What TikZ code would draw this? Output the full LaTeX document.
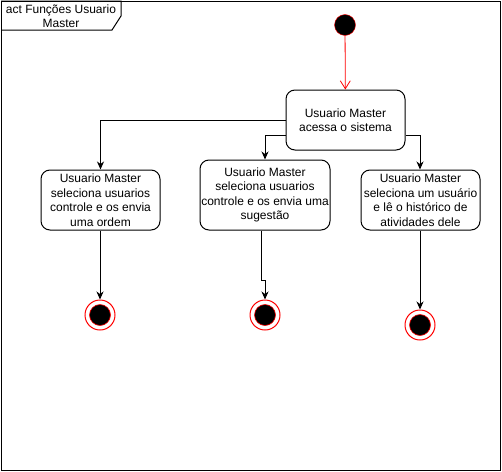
\documentclass[tikz,border=0pt]{standalone}
\usepackage{fontspec}
\setmainfont{Liberation Sans}
\usetikzlibrary{arrows.meta}
\begin{document}
\begin{tikzpicture}[x=1pt,y=-1pt,
  every node/.style={font=\fontsize{12pt}{14.5pt}\selectfont},
  action/.style={draw, line width=1pt, rounded corners=9pt, fill=white,
    align=center, inner sep=0pt},
  flow/.style={draw, line width=1pt, -{Stealth[length=8pt,width=7pt,inset=2.5pt]}},
  startflow/.style={draw=red, line width=0.8pt, -{Straight Barb[length=8pt,width=10pt]}},
  initial/.style={circle, draw=red, fill=black, minimum size=21pt, inner sep=0pt},
  finalring/.style={circle, draw=red, line width=1pt, fill=white, minimum size=30pt, inner sep=0pt},
  finaldot/.style={circle, draw=red, line width=0.6pt, fill=black, minimum size=21pt, inner sep=0pt}
]
\useasboundingbox (0,0) rectangle (502,471);

% frame with its name tab
\draw[line width=1pt] (1,1) rectangle (500,470);
\draw[line width=1pt] (1,1) -- (121,1) -- (121,16) -- (112,30) -- (1,30);
\node[align=center] (frame) at (61,16) {act Funções Usuario\\Master};

% initial state
\node[initial] (start) at (345,25) {};

% actions
\node[action, minimum width=119pt, minimum height=60pt] (access) at (345.5,120)
  {Usuario Master\\acessa o sistema};
\node[action, minimum width=119pt, minimum height=60pt] (order) at (100.5,200)
  {Usuario Master\\seleciona usuarios\\controle e os envia\\uma ordem};
\node[action, minimum width=130pt, minimum height=70pt] (suggest) at (265,195)
  {Usuario Master\\seleciona usuarios\\controle e os envia uma\\sugestão};
\node[action, minimum width=119pt, minimum height=60pt] (history) at (420.5,200)
  {Usuario Master\\seleciona um usuário\\e lê o histórico de\\atividades dele};

% final states
\node[finalring] (endA) at (100,315) {};
\node[finaldot] at (endA) {};
\node[finalring] (endB) at (265,315) {};
\node[finaldot] at (endB) {};
\node[finalring] (endC) at (420,325) {};
\node[finaldot] at (endC) {};

% control flows
\draw[startflow] (start) -- (access);
\draw[flow] (access.west) -| (order.north);
\draw[flow] ([yshift=-15pt]access.west) -| (suggest.north);
\draw[flow] ([yshift=-15pt]access.east) -| ([xshift=-0.5pt]history.north);
\draw[flow] ([xshift=-0.5pt]order.south) -- (endA.north);
\draw[flow] ([xshift=-4pt]suggest.south) -- ++(0,50) -| (endB.north);
\draw[flow] ([xshift=-0.5pt]history.south) -- (endC.north);
\end{tikzpicture}
\end{document}
